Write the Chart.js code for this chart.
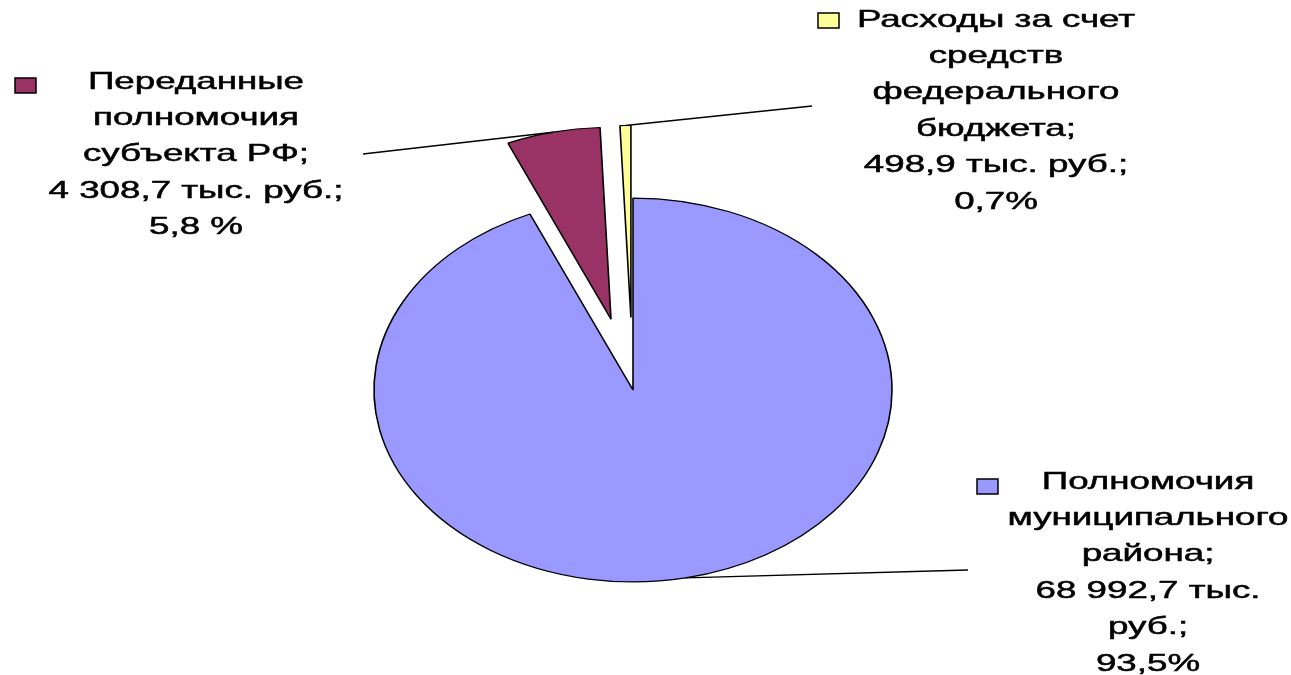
<!DOCTYPE html>
<html>
<head>
<meta charset="utf-8">
<script src="https://cdn.jsdelivr.net/npm/chart.js@4.4.1/dist/chart.umd.min.js"></script>
<style>
  html, body { margin: 0; padding: 0; background: #fff; }
  #wrap { width: 1291px; height: 675px; }
</style>
</head>
<body>
<div id="wrap"><canvas id="budget" width="1291" height="675"></canvas></div>
<script>
// data
const categories = [
  'Полномочия муниципального района',
  'Переданные полномочия субъекта РФ',
  'Расходы за счет средств федерального бюджета'
];
const amounts = [68992.7, 4308.7, 498.9];
const labelLines = [
  ['Полномочия', 'муниципального', 'района;', '68 992,7 тыс.', 'руб.;', '93,5%'],
  ['Переданные', 'полномочия', 'субъекта РФ;', '4 308,7 тыс. руб.;', '5,8 %'],
  ['Расходы за счет', 'средств', 'федерального', 'бюджета;', '498,9 тыс. руб.;', '0,7%']
];

// styling
const sliceColors = ['#9999FF', '#993366', '#FFFF99'];
const explode = [0, 98, 98];
const squash = 0.741;     // pie is drawn as an ellipse
const textStretch = 1.53; // labels are stretched wide like the original
const lineHeight = 36.4;

// label placement: text centre x, first line y, legend square, leader line end
const labelLayout = [
  { cx: 1148, y: 482, sq: [977, 479], lineEnd: [968, 570] },
  { cx: 196, y: 82, sq: [15, 78], lineEnd: [363, 154] },
  { cx: 996, y: 20, sq: [818, 13], lineEnd: [812, 106] }
];

const ellipse = { cx: 0, cy: 0 };

const explodePlugin = {
  id: 'explode',
  afterUpdate(chart) {
    const meta = chart.getDatasetMeta(0);
    meta.data.forEach((arc, i) => {
      const mid = (arc.startAngle + arc.endAngle) / 2;
      arc.x += Math.cos(mid) * explode[i];
      arc.y += Math.sin(mid) * explode[i];
    });
  }
};

const ellipsePlugin = {
  id: 'ellipse',
  beforeDatasetsDraw(chart) {
    const a = chart.chartArea;
    ellipse.cx = (a.left + a.right) / 2;
    ellipse.cy = (a.top + a.bottom) / 2;
    const ctx = chart.ctx;
    ctx.save();
    ctx.translate(ellipse.cx, ellipse.cy);
    ctx.scale(1, squash);
    ctx.translate(-ellipse.cx, -ellipse.cy);
  },
  afterDatasetsDraw(chart) {
    chart.ctx.restore();
  }
};

const labelPlugin = {
  id: 'sliceLabels',
  afterDraw(chart) {
    const ctx = chart.ctx;
    const meta = chart.getDatasetMeta(0);
    ctx.save();
    meta.data.forEach((arc, i) => {
      const lay = labelLayout[i];
      // leader line from the middle of the outer edge
      const mid = (arc.startAngle + arc.endAngle) / 2;
      const r = arc.outerRadius;
      const px = arc.x + Math.cos(mid) * r;
      const py = ellipse.cy + (arc.y + Math.sin(mid) * r - ellipse.cy) * squash;
      ctx.strokeStyle = '#000';
      ctx.lineWidth = 1.4;
      ctx.beginPath();
      ctx.moveTo(px, py);
      ctx.lineTo(lay.lineEnd[0], lay.lineEnd[1]);
      ctx.stroke();

      // legend key square
      ctx.fillStyle = sliceColors[i];
      ctx.fillRect(lay.sq[0], lay.sq[1], 21, 15);
      ctx.lineWidth = 1.5;
      ctx.strokeRect(lay.sq[0], lay.sq[1], 21, 15);

      // text
      ctx.fillStyle = '#000';
      ctx.strokeStyle = '#000';
      ctx.lineWidth = 0.5;
      ctx.font = '24px "Liberation Sans", Arial, sans-serif';
      ctx.textAlign = 'center';
      ctx.textBaseline = 'middle';
      labelLines[i].forEach((line, k) => {
        ctx.save();
        ctx.translate(lay.cx, lay.y + k * lineHeight);
        ctx.scale(textStretch, 1);
        ctx.fillText(line, 0, 0);
        ctx.strokeText(line, 0, 0);
        ctx.restore();
      });
    });
    ctx.restore();
  }
};

new Chart(document.getElementById('budget'), {
  type: 'pie',
  data: {
    labels: categories,
    datasets: [{
      data: amounts,
      backgroundColor: sliceColors,
      borderColor: '#000',
      borderWidth: 1.6,
      radius: 259,
      clip: false
    }]
  },
  options: {
    responsive: false,
    animation: false,
    events: [],
    layout: {
      padding: { top: 105, bottom: 0, left: 0, right: 25 }
    },
    plugins: {
      legend: { display: false },
      tooltip: { enabled: false }
    }
  },
  plugins: [explodePlugin, ellipsePlugin, labelPlugin]
});
</script>
</body>
</html>
